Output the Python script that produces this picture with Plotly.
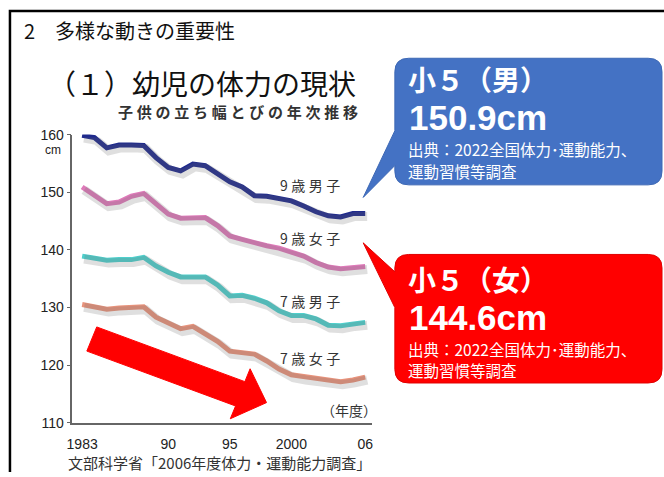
import plotly.graph_objects as go

W, H = 664, 477

years = list(range(1983, 2007))
boys9 = [159.9, 159.5, 157.7, 158.2, 158.2, 158.1, 156.0, 154.3, 153.7, 154.9, 154.6, 153.3,
         151.8, 150.9, 149.4, 149.3, 149.0, 148.5, 147.6, 146.6, 145.9, 145.7, 146.3, 146.3]
girls9 = [150.9, 149.5, 148.0, 148.3, 149.3, 149.8, 148.1, 146.2, 145.5, 145.5, 145.6, 144.2,
          142.4, 141.8, 141.2, 140.7, 140.3, 139.7, 138.9, 137.8, 137.0, 136.7, 137.0, 137.1]
boys7 = [138.9, 138.6, 138.2, 138.3, 138.3, 138.7, 137.2, 136.1, 135.3, 135.3, 135.3, 133.9,
         132.0, 132.1, 131.6, 130.8, 129.4, 128.6, 128.6, 128.0, 126.9, 126.8, 127.2, 127.4]
girls7 = [130.5, 130.1, 129.7, 129.9, 130.1, 130.1, 128.3, 127.2, 126.3, 126.7, 125.5, 124.1,
          122.4, 122.1, 121.9, 120.7, 119.3, 118.3, 117.9, 117.7, 117.4, 117.1, 117.4, 117.9]

series_names = ["9歳男子", "9歳女子", "7歳男子", "7歳女子"]
series_vals = [boys9, girls9, boys7, girls7]
series_colors = ["#1f2a8c", "#de7ab9", "#4fcfcc", "#e8937c"]

xtick_vals = [1983, 1990, 1995, 2000, 2006]
xtick_text = ["1983", "90", "95", "2000", "06"]
ytick_vals = [110, 120, 130, 140, 150, 160]


def px(x):
    return x / W


def py(y):
    return 1 - y / H


fig = go.Figure()

# soft shadow traces on a slightly shifted overlay axis
for vals in series_vals:
    fig.add_trace(go.Scatter(x=years, y=vals, mode="lines", xaxis="x2", yaxis="y2",
                             line=dict(color="rgba(110,110,110,0.22)", width=9),
                             hoverinfo="skip", showlegend=False))
for name, vals, col in zip(series_names, series_vals, series_colors):
    fig.add_trace(go.Scatter(x=years, y=vals, mode="lines", name=name,
                             line=dict(color=col, width=5), showlegend=False))

xr = [1982.2, 2006.56]
yr = [110, 160]
xdom = [px(67), px(370)]
ydom = [py(429), py(131)]

fig.update_layout(
    width=W, height=H, autosize=False,
    margin=dict(l=0, r=0, t=0, b=0),
    paper_bgcolor="white", plot_bgcolor="rgba(0,0,0,0)",
    xaxis=dict(domain=xdom, range=xr, tickvals=xtick_vals, ticktext=xtick_text,
               showgrid=False, zeroline=False, showline=True, linecolor="#666", linewidth=1.5,
               ticks="", ticklabelstandoff=8,
               tickfont=dict(family="Liberation Sans", size=14, color="#222")),
    yaxis=dict(domain=ydom, range=yr, tickvals=ytick_vals,
               showgrid=False, zeroline=False, showline=True, linecolor="#666", linewidth=1.5,
               ticks="outside", ticklen=4, tickcolor="#666",
               tickfont=dict(family="Liberation Sans", size=14, color="#222")),
    xaxis2=dict(domain=[px(69), px(372)], range=xr, visible=False, anchor="y2"),
    yaxis2=dict(domain=[py(432), py(134)], range=yr, visible=False, anchor="x2"),
)

shapes = []
# slide frame (top and left)
shapes.append(dict(type="path", xref="paper", yref="paper",
                   path=f"M{px(4)},{py(480)} L{px(4)},{py(3)} L{px(666)},{py(3)}",
                   line=dict(color="black", width=2.5)))


def bubble(x0, y0, x1, y1, r, tail):
    (tx, ty), (by0, by1) = tail
    pts = [f"M{px(x0 + r)},{py(y0)}",
           f"L{px(x1 - r)},{py(y0)}",
           f"Q{px(x1)},{py(y0)} {px(x1)},{py(y0 + r)}",
           f"L{px(x1)},{py(y1 - r)}",
           f"Q{px(x1)},{py(y1)} {px(x1 - r)},{py(y1)}",
           f"L{px(x0 + r)},{py(y1)}",
           f"Q{px(x0)},{py(y1)} {px(x0)},{py(y1 - r)}",
           f"L{px(x0)},{py(by1)}",
           f"L{px(tx)},{py(ty)}",
           f"L{px(x0)},{py(by0)}",
           f"L{px(x0)},{py(y0 + r)}",
           f"Q{px(x0)},{py(y0)} {px(x0 + r)},{py(y0)}",
           "Z"]
    return " ".join(pts)


shapes.append(dict(type="path", xref="paper", yref="paper",
                   path=bubble(393, 52, 663, 183, 14, ((361, 196), (127, 163))),
                   fillcolor="#4472c4", line=dict(color="#3d68b5", width=1)))
shapes.append(dict(type="path", xref="paper", yref="paper",
                   path=bubble(393, 255, 663, 388, 14, ((361, 243), (273, 310))),
                   fillcolor="#ff0000", line=dict(color="#e00000", width=1)))

# red downward-trend arrow
arrow_pts = [(91.7, 330), (241.4, 386.6), (246.7, 373.3), (263.3, 408.3), (226.7, 425),
             (232.0, 411.8), (81.7, 355)]
apath = "M" + " L".join(f"{px(x)},{py(y)}" for x, y in arrow_pts) + " Z"
shapes.append(dict(type="path", xref="paper", yref="paper", path=apath,
                   fillcolor="#ff0000", line=dict(color="#ff0000", width=1)))
fig.update_layout(shapes=shapes)

JP = "Noto Sans CJK JP"
ann = []


def text(x, y, s, size, color="black", xanchor="center", bold=False, family=JP):
    if bold:
        s = f"<b>{s}</b>"
    ann.append(dict(x=px(x), y=py(y), xref="paper", yref="paper", text=s, showarrow=False,
                    xanchor=xanchor, yanchor="middle", align="left",
                    font=dict(family=family, size=size, color=color)))


text(16, 23, "2　多様な動きの重要性", 20, "#111", xanchor="left")
text(40, 78, "（１）幼児の体力の現状", 28, "#111", xanchor="left")
sp = "\u2005"
text(234, 107, sp.join("子供の立ち幅とびの年次推移"), 15, "#333", bold=True)
text(48, 147, "cm", 12, "#222", family="Liberation Sans")

for lab, (x, y) in zip(series_names, [(307, 183), (307, 238), (307, 303), (307, 362)]):
    text(x, y, sp.join(lab), 14, "#333")
text(347, 416, "（年度）", 14, "#333")
text(216, 470, "文部科学省「2006年度体力・運動能力調査」", 15, "#333")

# bubble texts
NUM = "Liberation Sans"
text(404, 73, "小５（男）", 28, "white", xanchor="left", bold=True)
text(405, 113.5, "150.9cm", 35, "white", xanchor="left", bold=True, family=NUM)
text(404, 146, "出典：2022全国体力･運動能力、", 15.5, "white", xanchor="left")
text(404, 168.5, "運動習慣等調査", 15.5, "white", xanchor="left")

text(404, 280, "小５（女）", 28, "white", xanchor="left", bold=True)
text(405, 320.5, "144.6cm", 35, "white", xanchor="left", bold=True, family=NUM)
text(404, 352.5, "出典：2022全国体力･運動能力、", 15.5, "white", xanchor="left")
text(404, 375, "運動習慣等調査", 15.5, "white", xanchor="left")

fig.update_layout(annotations=ann)
fig.write_html("out.html")
